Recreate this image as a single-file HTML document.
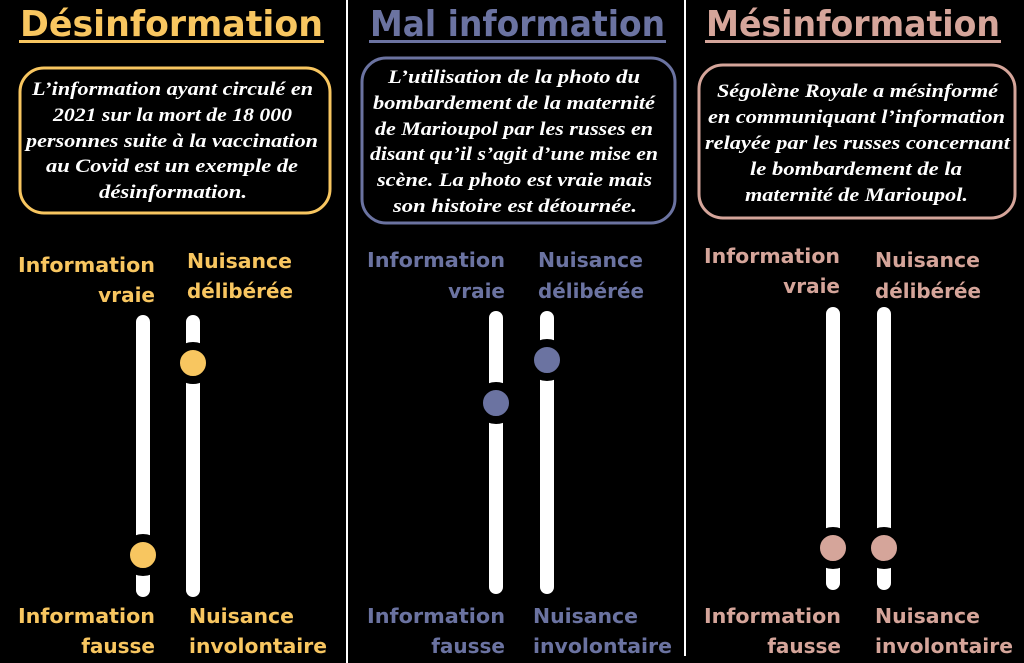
<!DOCTYPE html>
<html><head><meta charset="utf-8"><style>
html,body{margin:0;padding:0;background:#000;}
svg{display:block}
.t{font-family:"DejaVu Sans","Liberation Sans",sans-serif;font-weight:bold;font-size:36px}
.l{font-family:"DejaVu Sans","Liberation Sans",sans-serif;font-weight:bold;font-size:20px}
.b{font-family:"Liberation Serif","DejaVu Serif",serif;font-style:italic;font-weight:bold;font-size:19px;fill:#fff}
</style></head><body>
<svg width="1024" height="663" viewBox="0 0 1024 663" xmlns="http://www.w3.org/2000/svg">
<rect width="1024" height="663" fill="#000"/>
<line x1="347" y1="0" x2="347" y2="663" stroke="#fff" stroke-width="2"/>
<line x1="685" y1="0" x2="685" y2="656" stroke="#fff" stroke-width="2"/>

<!-- Column 1 -->
<g fill="#f8c660">
<text class="t" x="20" y="36" textLength="303" lengthAdjust="spacingAndGlyphs">Désinformation</text>
<rect x="19" y="40" width="305" height="3"/>
<text class="l" x="155" y="272" text-anchor="end" textLength="137" lengthAdjust="spacingAndGlyphs">Information</text>
<text class="l" x="155" y="302" text-anchor="end">vraie</text>
<text class="l" x="187" y="268" textLength="105" lengthAdjust="spacingAndGlyphs">Nuisance</text>
<text class="l" x="187" y="298" textLength="106" lengthAdjust="spacingAndGlyphs">délibérée</text>
<text class="l" x="155" y="623" text-anchor="end" textLength="137" lengthAdjust="spacingAndGlyphs">Information</text>
<text class="l" x="155" y="653" text-anchor="end">fausse</text>
<text class="l" x="189" y="623" textLength="105" lengthAdjust="spacingAndGlyphs">Nuisance</text>
<text class="l" x="189" y="653" textLength="138" lengthAdjust="spacingAndGlyphs">involontaire</text>
</g>
<rect x="20" y="68" width="310" height="145" rx="24" fill="none" stroke="#f8c660" stroke-width="3"/>
<text class="b" x="32" y="95" textLength="281" lengthAdjust="spacingAndGlyphs">L’information ayant circulé en</text>
<text class="b" x="53" y="121" textLength="239" lengthAdjust="spacingAndGlyphs">2021 sur la mort de 18 000</text>
<text class="b" x="26" y="147" textLength="292" lengthAdjust="spacingAndGlyphs">personnes suite à la vaccination</text>
<text class="b" x="46" y="172" textLength="252" lengthAdjust="spacingAndGlyphs">au Covid est un exemple de</text>
<text class="b" x="99" y="198" textLength="148" lengthAdjust="spacingAndGlyphs">désinformation.</text>
<rect x="136" y="315" width="14" height="282" rx="7" fill="#fff"/>
<rect x="186" y="315" width="14" height="282" rx="7" fill="#fff"/>
<circle cx="143" cy="555" r="17" fill="#f8c660" stroke="#000" stroke-width="8"/>
<circle cx="193" cy="363" r="17" fill="#f8c660" stroke="#000" stroke-width="8"/>

<!-- Column 2 -->
<g fill="#6b73a1">
<text class="t" x="370" y="36" textLength="295" lengthAdjust="spacingAndGlyphs">Mal information</text>
<rect x="369" y="40" width="297" height="3"/>
<text class="l" x="505" y="267" text-anchor="end" textLength="138" lengthAdjust="spacingAndGlyphs">Information</text>
<text class="l" x="505" y="298" text-anchor="end">vraie</text>
<text class="l" x="538" y="267" textLength="105" lengthAdjust="spacingAndGlyphs">Nuisance</text>
<text class="l" x="538" y="298" textLength="106" lengthAdjust="spacingAndGlyphs">délibérée</text>
<text class="l" x="505" y="623" text-anchor="end" textLength="138" lengthAdjust="spacingAndGlyphs">Information</text>
<text class="l" x="505" y="653" text-anchor="end">fausse</text>
<text class="l" x="533" y="623" textLength="105" lengthAdjust="spacingAndGlyphs">Nuisance</text>
<text class="l" x="533" y="653" textLength="139" lengthAdjust="spacingAndGlyphs">involontaire</text>
</g>
<rect x="362" y="58" width="313" height="165" rx="24" fill="none" stroke="#6b73a1" stroke-width="3"/>
<text class="b" x="388" y="83" textLength="252" lengthAdjust="spacingAndGlyphs">L’utilisation de la photo  du</text>
<text class="b" x="373" y="109" textLength="282" lengthAdjust="spacingAndGlyphs">bombardement de la maternité</text>
<text class="b" x="375" y="135" textLength="278" lengthAdjust="spacingAndGlyphs">de Marioupol par les russes en</text>
<text class="b" x="370" y="160" textLength="288" lengthAdjust="spacingAndGlyphs">disant qu’il s’agit d’une mise en</text>
<text class="b" x="377" y="186" textLength="275" lengthAdjust="spacingAndGlyphs">scène. La photo est vraie mais</text>
<text class="b" x="393" y="212" textLength="244" lengthAdjust="spacingAndGlyphs">son histoire est détournée.</text>
<rect x="489" y="311" width="14" height="283" rx="7" fill="#fff"/>
<rect x="540" y="311" width="14" height="283" rx="7" fill="#fff"/>
<circle cx="496" cy="403" r="17" fill="#6b73a1" stroke="#000" stroke-width="8"/>
<circle cx="547" cy="360" r="17" fill="#6b73a1" stroke="#000" stroke-width="8"/>

<!-- Column 3 -->
<g fill="#d5a59a">
<text class="t" x="706" y="36" textLength="294" lengthAdjust="spacingAndGlyphs">Mésinformation</text>
<rect x="705" y="40" width="296" height="3"/>
<text class="l" x="840" y="263" text-anchor="end" textLength="136" lengthAdjust="spacingAndGlyphs">Information</text>
<text class="l" x="840" y="293" text-anchor="end">vraie</text>
<text class="l" x="875" y="267" textLength="105" lengthAdjust="spacingAndGlyphs">Nuisance</text>
<text class="l" x="875" y="298" textLength="106" lengthAdjust="spacingAndGlyphs">délibérée</text>
<text class="l" x="841" y="623" text-anchor="end" textLength="137" lengthAdjust="spacingAndGlyphs">Information</text>
<text class="l" x="841" y="653" text-anchor="end">fausse</text>
<text class="l" x="875" y="623" textLength="105" lengthAdjust="spacingAndGlyphs">Nuisance</text>
<text class="l" x="875" y="653" textLength="138" lengthAdjust="spacingAndGlyphs">involontaire</text>
</g>
<rect x="699" y="65" width="316" height="153" rx="24" fill="none" stroke="#d5a59a" stroke-width="3"/>
<text class="b" x="717" y="97" textLength="281" lengthAdjust="spacingAndGlyphs">Ségolène Royale a mésinformé</text>
<text class="b" x="708" y="123" textLength="297" lengthAdjust="spacingAndGlyphs">en communiquant l’information</text>
<text class="b" x="705" y="149" textLength="305" lengthAdjust="spacingAndGlyphs">relayée par les russes concernant</text>
<text class="b" x="750" y="175" textLength="212" lengthAdjust="spacingAndGlyphs">le bombardement de la</text>
<text class="b" x="745" y="201" textLength="223" lengthAdjust="spacingAndGlyphs">maternité de Marioupol.</text>
<rect x="826" y="307" width="14" height="283" rx="7" fill="#fff"/>
<rect x="877" y="307" width="14" height="283" rx="7" fill="#fff"/>
<circle cx="833" cy="548" r="17" fill="#d5a59a" stroke="#000" stroke-width="8"/>
<circle cx="884" cy="548" r="17" fill="#d5a59a" stroke="#000" stroke-width="8"/>
</svg>
</body></html>
